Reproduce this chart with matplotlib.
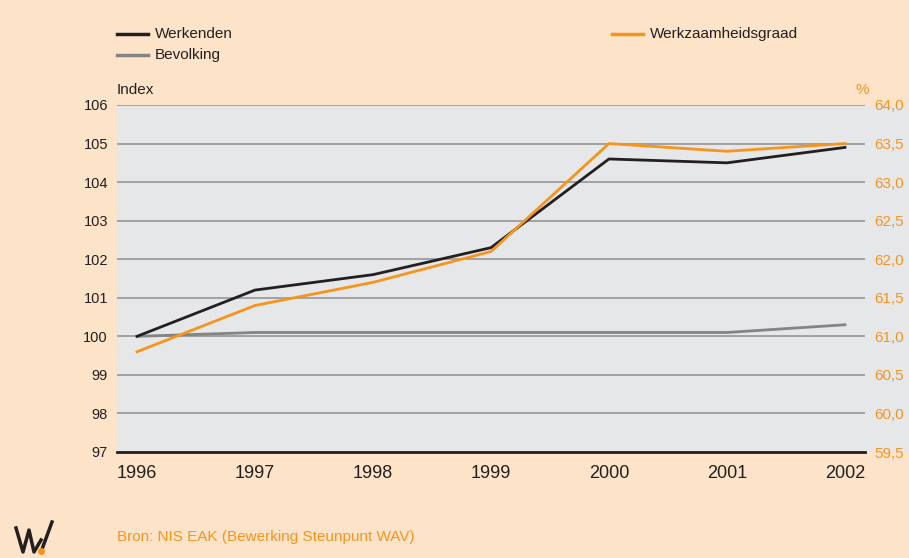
import matplotlib.pyplot as plt
from matplotlib.patches import Rectangle
from matplotlib.lines import Line2D

plt.rcParams['font.family'] = ['Liberation Sans', 'DejaVu Sans']

# data
years = [1996, 1997, 1998, 1999, 2000, 2001, 2002]
werkenden = [100.0, 101.2, 101.6, 102.3, 104.6, 104.5, 104.9]
bevolking = [100.0, 100.1, 100.1, 100.1, 100.1, 100.1, 100.3]
werkzaamheidsgraad = [60.8, 61.4, 61.7, 62.1, 63.5, 63.4, 63.5]

left_ticks = [97, 98, 99, 100, 101, 102, 103, 104, 105, 106]
right_ticks = [59.5, 60.0, 60.5, 61.0, 61.5, 62.0, 62.5, 63.0, 63.5, 64.0]

peach = '#FDE4C9'
panel = '#E6E7E8'
orange = '#F7941D'
dark = '#231F20'
grey = '#848484'
gridc = '#9C9C9C'

W, H = 909, 558
fig = plt.figure(figsize=(W / 100, H / 100), dpi=100)
fig.patch.set_facecolor(peach)

def fx(px):
    return px / W

def fy(py):
    return 1 - py / H

# grey panel that also runs behind the right tick labels
fig.patches.append(Rectangle((fx(117), fy(452)), fx(909) - fx(117), fy(105) - fy(452),
                             transform=fig.transFigure, facecolor=panel, edgecolor='none',
                             zorder=-1))

ax = fig.add_axes([fx(117), fy(452), fx(865) - fx(117), fy(105) - fy(452)])
ax.set_facecolor('none')
ax2 = ax.twinx()

ax.set_xlim(1995.83, 2002.17)
ax.set_ylim(97, 106)
ax2.set_ylim(59.5, 64.0)

ax.set_yticks(left_ticks)
ax.set_yticklabels([str(t) for t in left_ticks])
ax2.set_yticks(right_ticks)
ax2.set_yticklabels([('%.1f' % t).replace('.', ',') for t in right_ticks])
ax.set_xticks(years)
ax.set_xticklabels([str(y) for y in years])

for t in left_ticks[1:]:
    ax.axhline(t, color=gridc, lw=1.3, zorder=1)

for s in ['top', 'left', 'right']:
    ax.spines[s].set_visible(False)
    ax2.spines[s].set_visible(False)
ax2.spines['bottom'].set_visible(False)
ax.spines['bottom'].set_color(dark)
ax.spines['bottom'].set_linewidth(2)

ax.tick_params(axis='y', length=0, pad=6.5, labelsize=10.5, labelcolor=dark)
ax.tick_params(axis='x', length=0, pad=9, labelsize=13, labelcolor=dark)
ax2.tick_params(axis='y', length=0, pad=7, labelsize=11, labelcolor=orange)

ax.plot(years, bevolking, color=grey, lw=2, zorder=3)
ax.plot(years, werkenden, color=dark, lw=2, zorder=4)
ax2.plot(years, werkzaamheidsgraad, color=orange, lw=2, zorder=5)

# legend
def legend_item(x0, y, label, color):
    fig.add_artist(Line2D([fx(x0), fx(x0 + 31)], [fy(y), fy(y)], color=color, lw=2.5,
                          transform=fig.transFigure))
    fig.text(fx(x0 + 38), fy(y), label, fontsize=11, color=dark, va='center', ha='left')

legend_item(117, 34, 'Werkenden', dark)
legend_item(117, 55, 'Bevolking', grey)
legend_item(612, 34, 'Werkzaamheidsgraad', orange)

fig.text(fx(117), fy(90), 'Index', fontsize=11, color=dark, va='center', ha='left')
fig.text(fx(862), fy(90), '%', fontsize=11, color=orange, va='center', ha='center')

fig.text(fx(117), fy(537), 'Bron: NIS EAK (Bewerking Steunpunt WAV)', fontsize=11,
         color=orange, va='center', ha='left')

# small logo bottom left
logo_x = [16, 23, 29, 34, 41]
logo_y = [528, 552, 530, 552, 540]
fig.add_artist(Line2D([fx(v) for v in logo_x], [fy(v) for v in logo_y], color=dark, lw=2.5,
                      transform=fig.transFigure, solid_joinstyle='round'))
fig.add_artist(Line2D([fx(41), fx(52)], [fy(552), fy(522)], color=dark, lw=2.5,
                      transform=fig.transFigure))
fig.add_artist(Line2D([fx(41)], [fy(551)], marker='o', markersize=4, color=orange,
                      transform=fig.transFigure))

fig.savefig('out.png', dpi=100, facecolor=peach)
